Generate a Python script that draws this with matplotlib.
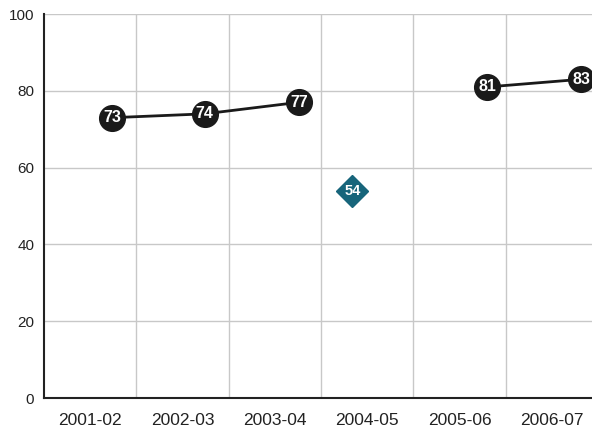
import numpy as np
import matplotlib.pyplot as plt

# ---------------- DADOS ----------------
categorias = ['2001-02', '2002-03', '2003-04', '2004-05', '2005-06', '2006-07']
# serie principal (circulos pretos), None = sem valor
valores = [73, 74, 77, None, 81, 83]
x_serie = [0.74, 1.74, 2.76, 3.34, 4.80, 5.82]
# ponto isolado (losango azul)
valor_losango = 54
x_losango = 3.34

plt.rcParams['font.family'] = ['Liberation Sans', 'DejaVu Sans']

fig = plt.figure(figsize=(5.92, 4.29), dpi=100)
ax = fig.add_axes([44/592, 31/429, 554/592, 384/429])

# linhas (com quebra onde falta valor)
xs = [x if v is not None else np.nan for x, v in zip(x_serie, valores)]
ys = [v if v is not None else np.nan for v in valores]
ax.plot(xs, ys, color='#1a1a1a', lw=2, zorder=3)

for x, v in zip(x_serie, valores):
    if v is None:
        continue
    ax.plot(x, v, 'o', ms=18.5, color='#1a1a1a', zorder=4, clip_on=False)
    ax.text(x, v, str(v), color='white', fontsize=11.5, fontweight='bold',
            ha='center', va='center', zorder=5)

ax.plot(x_losango, valor_losango, 'D', ms=16, color='#17657b', zorder=4)
ax.text(x_losango, valor_losango, str(valor_losango), color='white', fontsize=10.5,
        fontweight='bold', ha='center', va='center', zorder=5)

ax.set_xlim(0, 6)
ax.set_ylim(0, 100)
ax.set_yticks([0, 20, 40, 60, 80, 100])
ax.set_xticks(np.arange(6) + 0.5)
ax.set_xticklabels(categorias)
ax.set_xticks(np.arange(1, 7), minor=True)
ax.tick_params(axis='both', which='both', length=0, colors='#222222')
ax.tick_params(axis='x', labelsize=12.5, pad=11)
ax.tick_params(axis='y', labelsize=11, pad=7)

ax.grid(True, axis='y', color='#c8c8c8', lw=1)
ax.grid(True, axis='x', which='minor', color='#c8c8c8', lw=1)
ax.set_axisbelow(True)

for s in ['top', 'right']:
    ax.spines[s].set_visible(False)
ax.spines['left'].set_color('#222222')
ax.spines['bottom'].set_color('#222222')
ax.spines['left'].set_linewidth(1.5)
ax.spines['bottom'].set_linewidth(1.5)

fig.savefig('out.png', dpi=100)
